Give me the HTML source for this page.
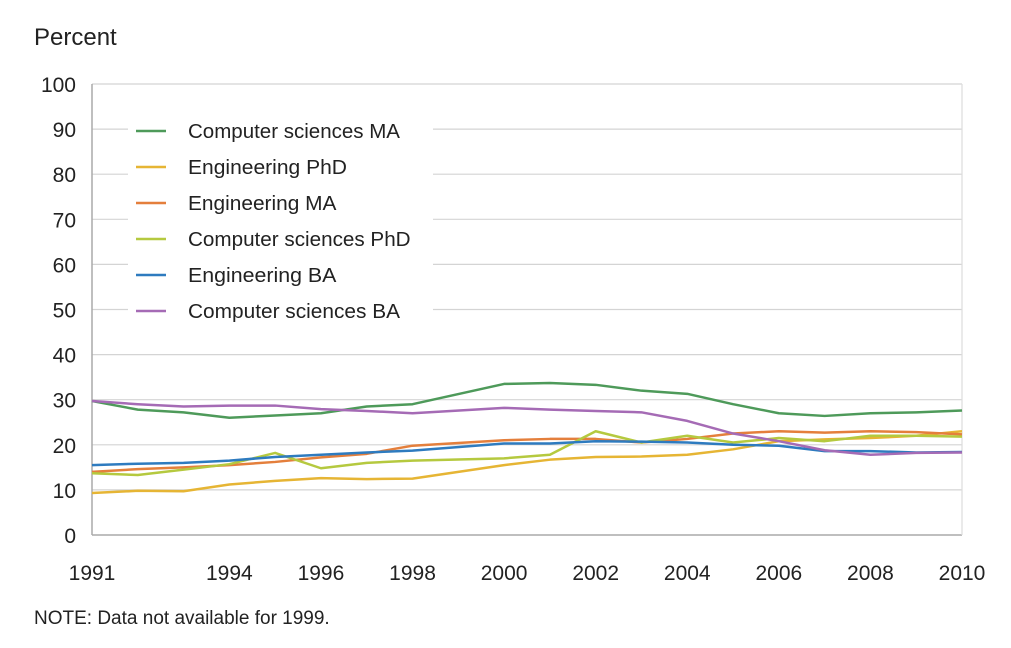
<!DOCTYPE html>
<html><head><meta charset="utf-8"><style>
body{margin:0;background:#fff;}
svg text{font-family:"Liberation Sans",sans-serif;fill:#222;}
</style></head><body>
<svg id="chart" width="1011" height="643" viewBox="0 0 1011 643">
<text x="34" y="45" font-size="24">Percent</text>
<g id="grid"></g><g id="axes"></g><g id="series"></g><g id="legend"></g>
<text x="34" y="624" font-size="19">NOTE: Data not available for 1999.</text>
</svg>
<script>
const years=[1991,1992,1993,1994,1995,1996,1997,1998,2000,2001,2002,2003,2004,2005,2006,2007,2008,2009,2010];
const xTickLabels=[1991,1994,1996,1998,2000,2002,2004,2006,2008,2010];
const yTickLabels=[0,10,20,30,40,50,60,70,80,90,100];
const seriesNames=["Computer sciences MA","Engineering PhD","Engineering MA","Computer sciences PhD","Engineering BA","Computer sciences BA"];
const seriesColors=["#4e9a5a","#e6b534","#e47f3c","#b5c93f","#2e7bbf","#a56bb5"];
const csMA=[29.7,27.8,27.2,26,26.5,27,28.5,29,33.5,33.7,33.3,32,31.3,29,27,26.4,27,27.2,27.6];
const engPhD=[9.3,9.8,9.7,11.2,12,12.6,12.4,12.5,15.5,16.7,17.3,17.4,17.8,19,20.8,21.2,21.5,22,23];
const engMA=[14,14.6,15,15.5,16.2,17.2,18,19.8,21,21.3,21.3,20.5,21.3,22.5,23,22.7,23,22.8,22.3];
const csPhD=[13.7,13.3,14.5,15.7,18.2,14.8,16,16.5,17,17.8,23,20.5,22,20.5,21.5,20.8,22,22,21.8];
const engBA=[15.5,15.8,16,16.5,17.3,17.8,18.3,18.7,20.3,20.3,20.8,20.7,20.5,20,19.8,18.6,18.6,18.3,18.4];
const csBA=[29.7,29,28.5,28.7,28.7,27.9,27.5,27,28.2,27.8,27.5,27.2,25.3,22.5,20.8,18.8,17.8,18.2,18.3];
const allSeries=[csMA,engPhD,engMA,csPhD,engBA,csBA];
const NS="http://www.w3.org/2000/svg";
const X0=92,X1=962,Y0=535,Y1=84;
const xs=y=>X0+(y-1991)/(2010-1991)*(X1-X0);
const ys=v=>Y0-v/100*(Y0-Y1);
function mk(tag,attrs,parent){const e=document.createElementNS(NS,tag);for(const k in attrs)e.setAttribute(k,attrs[k]);parent.appendChild(e);return e;}
const grid=document.getElementById('grid'),axes=document.getElementById('axes'),ser=document.getElementById('series'),leg=document.getElementById('legend');
yTickLabels.forEach(v=>{
  if(v>0){const l=mk('line',{x1:X0,x2:X1,y1:ys(v),y2:ys(v),stroke:'#d4d4d4','stroke-width':1.2},grid);
  
  }
  const t=mk('text',{x:76,y:ys(v)+8,'font-size':21,'text-anchor':'end'},axes);t.textContent=v;
  
  
});
const ax=mk('line',{x1:X0,x2:X0,y1:Y1,y2:Y0,stroke:'#aaa','stroke-width':1.5},axes);


const bx=mk('line',{x1:X0,x2:X1,y1:Y0,y2:Y0,stroke:'#aaa','stroke-width':1.5},axes);


const rx=mk('line',{x1:X1,x2:X1,y1:Y1,y2:Y0,stroke:'#ddd','stroke-width':1.2},axes);


xTickLabels.forEach(y=>{
  const t=mk('text',{x:xs(y),y:580,'font-size':21,'text-anchor':'middle'},axes);t.textContent=y;
  
  
});
const bg=mk('rect',{x:128,y:110,width:305,height:215,fill:'#fff'},leg);


allSeries.forEach((s,i)=>{
  const p=mk('polyline',{points:s.map((v,j)=>xs(years[j])+','+ys(v)).join(' '),fill:'none',stroke:seriesColors[i],'stroke-width':2.5,'stroke-linejoin':'round'},ser);
  
  
  const ly=131+i*36;
  const g=mk('g',{},leg);
  
  
  mk('line',{x1:136,x2:166,y1:ly,y2:ly,stroke:seriesColors[i],'stroke-width':2.5},g);
  const t=mk('text',{x:188,y:ly+7,'font-size':20,textLength:seriesNames[i].length*10.6,lengthAdjust:'spacingAndGlyphs'},g);t.textContent=seriesNames[i];
});
</script>
</body></html>
